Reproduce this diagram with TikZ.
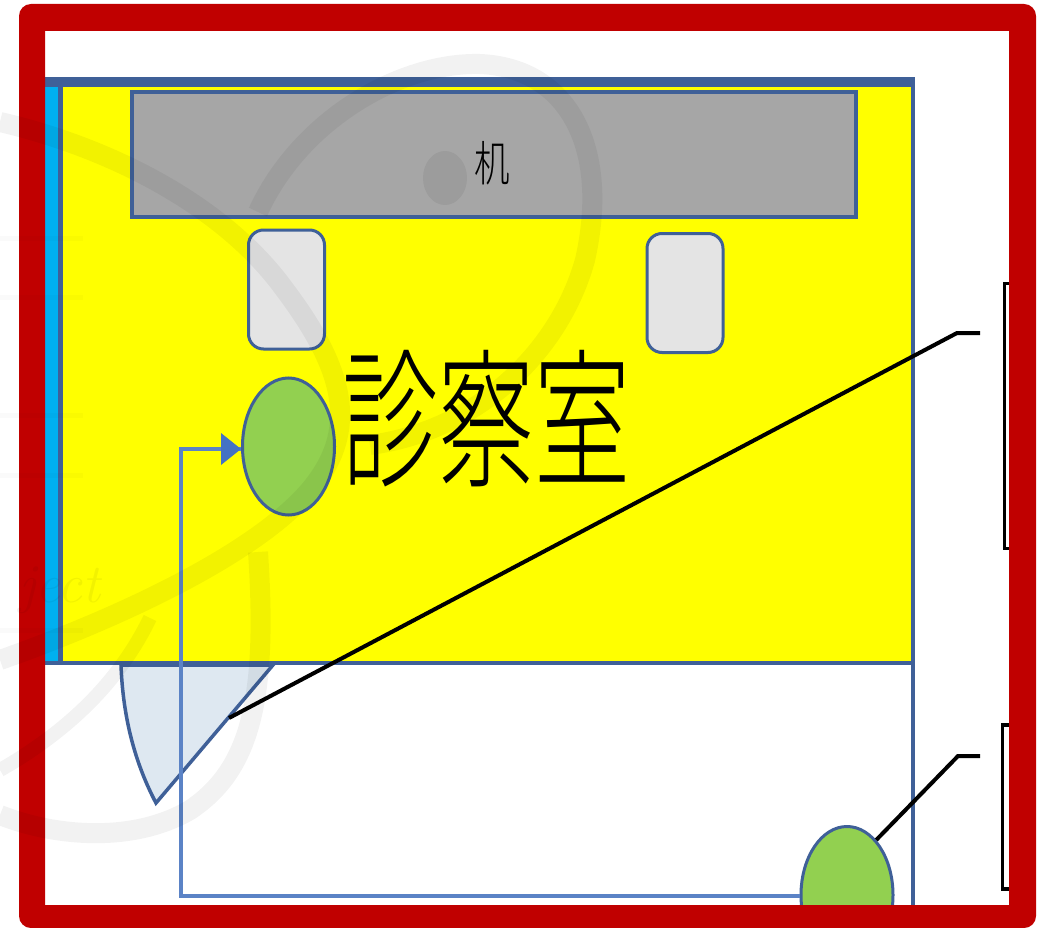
\documentclass[tikz,border=0pt]{standalone}
\usepackage{fontspec}
\newfontfamily\cjk{Noto Sans CJK JP Light}
\usetikzlibrary{shapes.geometric}
\definecolor{edge}{HTML}{3F6098}
\definecolor{routeblue}{HTML}{5B83C6}
\definecolor{arrowblue}{HTML}{4472C4}
\definecolor{framered}{HTML}{C00000}
\definecolor{roomyellow}{HTML}{FFFF00}
\definecolor{stripblue}{HTML}{00B0F0}
\definecolor{doorblue}{HTML}{DEE8F1}
\definecolor{personGreen}{HTML}{92D050}
\definecolor{deskgray}{HTML}{A6A6A6}
\definecolor{chairgray}{HTML}{E4E4E4}
\begin{document}
\begin{tikzpicture}[ x=1pt, y=-1pt, >=latex, desk/.style={ draw=edge, fill=deskgray,
    line width=4pt, minimum width=724pt, minimum height=125pt, inner sep=0pt },
    chair/.style={ draw=edge, fill=chairgray, line width=3pt, rounded corners=15pt,
    minimum width=76pt, minimum height=119pt }, patient/.style={ ellipse, draw=edge,
    fill=personGreen, line width=3pt, minimum width=92pt, minimum height=137pt,
    inner sep=0pt }, route/.style={ draw=routeblue, line width=3.5pt },
    leader/.style={ draw=black, line width=4pt }, band/.style={ draw=black,
    opacity=.05, line width=20pt }, rule/.style={ draw=black,
    opacity=.02, line width=5pt } ]
  \useasboundingbox (0,0) rectangle (1046,928);
  \fill[white] (0,0) rectangle (1046,928);
  \begin{scope}
    \clip (45,31) rectangle (1009,905);
    \draw[draw=edge, line width=3.5pt] (913,662) -- (913,905);
    \draw[draw=edge, line width=3.5pt, fill=doorblue] (121,665)
      .. controls (123,720) and (136,765) .. (156,803) -- (273,665) -- cycle;
    \fill[roomyellow] (45,85) rectangle (913,662);
    \fill[stripblue] (45,85) rectangle (58,662);
    \fill[edge] (58,85) rectangle (63,662);
    \fill[edge] (45,77) rectangle (915,87);
    \draw[draw=edge, line width=4pt] (45,662.5) -- (913,662.5) -- (913,85);
    \node[desk] (desk) at (494,154.5) {};
    \node (desklabel) at (492,163) {\cjk\fontsize{48}{48}\selectfont\scalebox{.74}[1]{机}};
    \node[chair] (chaira) at (286.5,289.5) {};
    \node[chair] (chairb) at (685,293) {};
    \node[patient] (patienta) at (288.5,446.5) {};
    \node[patient] (patientb) at (847,895) {};
    \node[inner sep=0pt] (roomlabel) at (486.5,419) {\cjk\fontsize{150}{150}\selectfont\scalebox{.64}[1]{診察室}};
    \coordinate (bend) at (181,896);
    \coordinate (doorpoint) at (229,718);
    \coordinate (tagb) at (980,756);
    \coordinate (taga) at (980,333);
    \draw[route] (patientb.west |- bend) -- (bend) |- (patienta.west |- 0,449) coordinate (tip);
    \fill[arrowblue] (tip) -- ++(-20,-16) -- ++(0,32) -- cycle;
    \draw[leader] (doorpoint) -- (957,333) -- (taga);
    \draw[leader] (patientb.62) -- (958,756) -- (tagb);
    \draw[draw=black, line width=3.5pt] (1012,283.5) -- (1004.5,283.5) -- (1004.5,548.5) -- (1012,548.5);
    \draw[draw=black, line width=3.5pt] (1012,725) -- (1002.5,725) -- (1002.5,889) -- (1012,889);
  \end{scope}
  \fill[framered, even odd rule, rounded corners=12pt] (19,4) rectangle (1036,928)
    [sharp corners] (45,31) rectangle (1009,905);
  \draw[band] (258,212) .. controls (300,120) and (400,62) .. (480,64)
    .. controls (570,68) and (610,150) .. (585,260)
    .. controls (560,350) and (480,430) .. (370,445);
  \draw[band] (0,122) .. controls (100,145) and (220,200) .. (285,290)
    .. controls (345,370) and (360,430) .. (310,490)
    .. controls (250,560) and (100,625) .. (0,660);
  \draw[band] (258,552) .. controls (268,700) and (250,770) .. (190,810)
    .. controls (130,845) and (50,835) .. (0,815);
  \draw[band, line width=14pt] (150,618) .. controls (120,680) and (70,730) .. (0,770);
  \fill[black, opacity=.06] (445,178) ellipse (22 and 27);
  \foreach \y in {238,297,415,475,630}
  \draw[rule] (0,\y) -- (83,\y);
  \node[opacity=.05, font=\itshape\fontsize{55}{55}\selectfont] (mark) at (60,590) {ject};
\end{tikzpicture}
\end{document}
